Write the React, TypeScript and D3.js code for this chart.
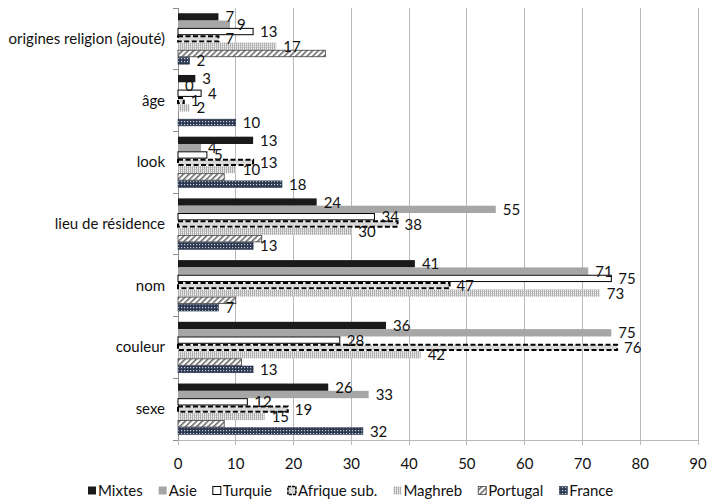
import React, { useEffect, useRef } from "react";
import * as d3 from "d3";

const categories = ["origines religion (ajouté)", "âge", "look", "lieu de résidence", "nom", "couleur", "sexe"];
const seriesNames = ["Mixtes", "Asie", "Turquie", "Afrique sub.", "Maghreb", "Portugal", "France"];
const mixtes = [7, 3, 13, 24, 41, 36, 26];
const asie = [9, 0, 4, 55, 71, 75, 33];
const turquie = [13, 4, 5, 34, 75, 28, 12];
const afrique = [7, 1, 13, 38, 47, 76, 19];
const maghreb = [17, 2, 10, 30, 73, 42, 15];
const portugal = [25.5, 0, 8, 14.5, 10, 11, 8];
const france = [2, 10, 18, 13, 7, 13, 32];
const seriesValues = [mixtes, asie, turquie, afrique, maghreb, portugal, france];
const showLabels = [true, true, true, true, true, false, true];
const xTicks = [0, 10, 20, 30, 40, 50, 60, 70, 80, 90];

const W = 708;
const H = 501;
const FONT = "Lato, 'DejaVu Sans', sans-serif";

export default function App() {
  const ref = useRef<SVGSVGElement | null>(null);

  useEffect(() => {
    const svg = d3.select(ref.current);
    svg.selectAll("*").remove();

    const defs = svg.append("defs");
    const pm = defs.append("pattern").attr("id", "p-maghreb").attr("patternUnits", "userSpaceOnUse").attr("width", 2).attr("height", 2);
    pm.append("rect").attr("width", 2).attr("height", 2).attr("fill", "#efefef");
    pm.append("rect").attr("width", 1).attr("height", 2).attr("fill", "#b0b0b0");
    pm.append("rect").attr("x", 1).attr("y", 1).attr("width", 1).attr("height", 1).attr("fill", "#d4d4d4");
    const pp = defs.append("pattern").attr("id", "p-portugal").attr("patternUnits", "userSpaceOnUse").attr("width", 4).attr("height", 4).attr("patternTransform", "rotate(45)");
    pp.append("rect").attr("width", 4).attr("height", 4).attr("fill", "#ffffff");
    pp.append("rect").attr("width", 1.6).attr("height", 4).attr("fill", "#6a6a6a");
    const pf = defs.append("pattern").attr("id", "p-france").attr("patternUnits", "userSpaceOnUse").attr("width", 3).attr("height", 3);
    pf.append("rect").attr("width", 3).attr("height", 3).attr("fill", "#2c3850");
    pf.append("rect").attr("x", 1).attr("y", 1).attr("width", 1.2).attr("height", 1.2).attr("fill", "#c9cfdc");

    const styles = [
      { fill: "#1a1a1a", stroke: "none", sw: 0, dash: null },
      { fill: "#a6a6a6", stroke: "none", sw: 0, dash: null },
      { fill: "#ffffff", stroke: "#000000", sw: 1, dash: null },
      { fill: "#d9d9d9", stroke: "#000000", sw: 2, dash: "5,2.5" },
      { fill: "url(#p-maghreb)", stroke: "none", sw: 0, dash: null },
      { fill: "url(#p-portugal)", stroke: "#404040", sw: 0.8, dash: null },
      { fill: "url(#p-france)", stroke: "#2c3850", sw: 0.6, dash: null },
    ];

    const left = 178, right = 698, top = 8, bottom = 440;
    const x = d3.scaleLinear().domain([0, 90]).range([left, right]);
    const y0 = d3.scaleBand<string>().domain(categories).range([top, bottom]).paddingInner(0.17).paddingOuter(0.085);
    const y1 = d3.scaleBand<string>().domain(seriesNames).range([0, y0.bandwidth()]).padding(0);

    const g = svg.append("g");
    xTicks.filter((t) => t > 0).forEach((t) => {
      g.append("line").attr("x1", x(t)).attr("x2", x(t)).attr("y1", top).attr("y2", bottom + 5)
        .attr("stroke", "#b8b8b8").attr("stroke-width", 1).attr("shape-rendering", "crispEdges");
    });
    g.append("line").attr("x1", left).attr("x2", right).attr("y1", bottom).attr("y2", bottom)
      .attr("stroke", "#b8b8b8").attr("shape-rendering", "crispEdges");
    g.append("line").attr("x1", left).attr("x2", left).attr("y1", bottom).attr("y2", bottom + 5)
      .attr("stroke", "#b8b8b8").attr("shape-rendering", "crispEdges");
    g.append("line").attr("x1", left).attr("x2", left).attr("y1", top).attr("y2", bottom)
      .attr("stroke", "#8c8c8c").attr("shape-rendering", "crispEdges");
    const step = (bottom - top) / categories.length;
    d3.range(categories.length + 1).forEach((i) => {
      g.append("line").attr("x1", left - 5).attr("x2", left).attr("y1", top + i * step).attr("y2", top + i * step)
        .attr("stroke", "#8c8c8c").attr("shape-rendering", "crispEdges");
    });

    const bars = svg.append("g");
    categories.forEach((cat, ci) => {
      seriesNames.forEach((s, si) => {
        const v = seriesValues[si][ci];
        const st = styles[si];
        const by = (y0(cat) as number) + (y1(s) as number);
        const bh = y1.bandwidth();
        if (v > 0) {
          const r = bars.append("rect")
            .attr("x", x(0)).attr("y", by + (st.sw ? st.sw / 2 : 0))
            .attr("width", Math.max(0, x(v) - x(0)))
            .attr("height", bh - (st.sw ? st.sw : 0))
            .attr("fill", st.fill);
          if (st.stroke !== "none") {
            r.attr("stroke", st.stroke).attr("stroke-width", st.sw);
            if (st.dash) r.attr("stroke-dasharray", st.dash);
          }
        }
      });
    });

    const labels = svg.append("g").attr("font-family", FONT).attr("font-size", 15).attr("fill", "#111");
    categories.forEach((cat, ci) => {
      seriesNames.forEach((s, si) => {
        if (!showLabels[si]) return;
        const v = seriesValues[si][ci];
        const by = (y0(cat) as number) + (y1(s) as number) + y1.bandwidth() / 2;
        labels.append("text").attr("x", x(v) + 7).attr("y", by + 5.5).text(String(Math.round(v)));
      });
    });

    const cl = svg.append("g").attr("font-family", FONT).attr("font-size", 15).attr("fill", "#111").attr("text-anchor", "end");
    categories.forEach((cat) => {
      cl.append("text").attr("x", 165).attr("y", (y0(cat) as number) + y0.bandwidth() / 2 + 5).text(cat);
    });

    const tl = svg.append("g").attr("font-family", FONT).attr("font-size", 15).attr("fill", "#111").attr("text-anchor", "middle");
    xTicks.forEach((t) => {
      tl.append("text").attr("x", x(t)).attr("y", 469).text(String(t));
    });

    const lg = svg.append("g").attr("font-family", FONT).attr("font-size", 15).attr("fill", "#111");
    let lx = 88;
    const ly = 496;
    seriesNames.forEach((s, si) => {
      const st = styles[si];
      const m = lg.append("rect").attr("x", lx).attr("y", ly - 9.5).attr("width", 8).attr("height", 8).attr("fill", st.fill);
      if (st.stroke !== "none") {
        m.attr("stroke", st.stroke).attr("stroke-width", Math.min(st.sw, 1.5));
        if (st.dash) m.attr("stroke-dasharray", "3,1");
      }
      const t = lg.append("text").attr("x", lx + 10).attr("y", ly).text(s);
      const w = (t.node() as SVGTextElement).getComputedTextLength();
      lx += 10 + w + 16;
    });
  }, []);

  return <svg ref={ref} width={W} height={H} style={{ display: "block", position: "absolute", left: 0, top: 0 }} />;
}
